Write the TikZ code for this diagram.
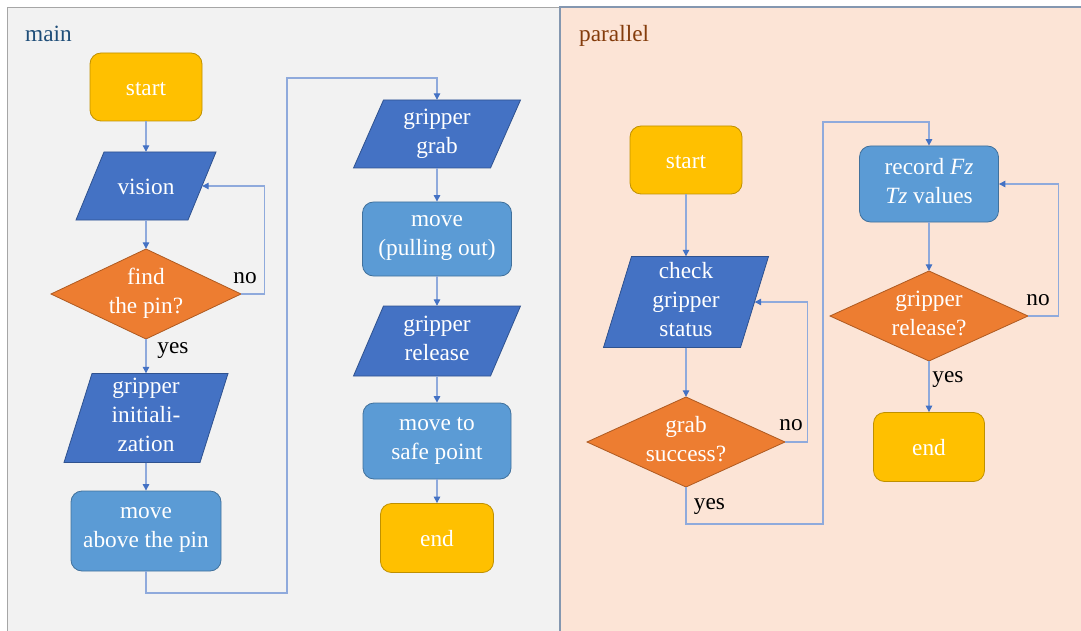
\documentclass[tikz,border=0pt]{standalone}
\usepackage{fontspec}
\setmainfont{Liberation Serif}
\usetikzlibrary{arrows.meta}

\definecolor{termfill}{HTML}{FFC000}
\definecolor{termline}{HTML}{BF9000}
\definecolor{procfill}{HTML}{5B9BD5}
\definecolor{procline}{HTML}{41719C}
\definecolor{iofill}{HTML}{4472C4}
\definecolor{ioline}{HTML}{2F528F}
\definecolor{decfill}{HTML}{ED7D31}
\definecolor{decline}{HTML}{AE5A21}
\definecolor{flowline}{HTML}{8FAADC}
\definecolor{flowtip}{HTML}{4472C4}
\definecolor{mainbg}{HTML}{F2F2F2}
\definecolor{mainframe}{HTML}{A6A6A6}
\definecolor{parbg}{HTML}{FCE4D6}
\definecolor{parframe}{HTML}{8497B0}
\definecolor{maintitle}{HTML}{1F4E79}
\definecolor{partitle}{HTML}{843C0C}

\tikzset{
  txt/.style={font=\fontsize{23.3}{29}\selectfont, text=white, align=center, inner sep=0pt,
    execute at begin node={\rule{0pt}{19.5pt}},
    execute at end node={\rule[-6pt]{0pt}{6pt}}},
  oneline/.style={execute at begin node={\rule{0pt}{23pt}}},
  terminal/.style={txt, oneline, rectangle, rounded corners=11pt, fill=termfill, draw=termline, line width=0.8pt},
  process/.style={txt, rectangle, rounded corners=11pt, fill=procfill, draw=procline, line width=0.8pt},
  iobody/.style={fill=iofill, draw=ioline, line width=0.8pt},
  decbody/.style={fill=decfill, draw=decline, line width=0.8pt},
  flow/.style={draw=flowline, line width=1.1pt, -{Triangle[length=6.5pt,width=6.5pt,color=flowtip]}},
  lbl/.style={font=\fontsize{23.3}{29}\selectfont, text=black, anchor=base, inner sep=0pt},
  paneltitle/.style={font=\fontsize{23.3}{29}\selectfont, anchor=base west, inner sep=0pt},
}

% parallelogram: name, x, y, half width, half height, half slant, text (#8: extra node options)
\newcommand\iobox[8][]{%
  \filldraw[iobody] (#3+#5+#7,#4-#6) -- (#3-#5+#7,#4-#6) -- (#3-#5-#7,#4+#6) -- (#3+#5-#7,#4+#6) -- cycle;
  \node[txt, #1, minimum width=#5*2pt, minimum height=#6*2pt] (#2) at (#3,#4) {#8};}
% decision diamond: name, x, y, half width, half height, text
\newcommand\decbox[6]{%
  \filldraw[decbody] (#2,#3-#5) -- (#2+#4,#3) -- (#2,#3+#5) -- (#2-#4,#3) -- cycle;
  \node[txt, minimum width=#4*2pt, minimum height=#5*2pt] (#1) at (#2,#3) {#6};}

\begin{document}
\begin{tikzpicture}[x=1pt, y=-1pt]
\useasboundingbox (0,0) rectangle (1081,631);
\begin{scope}
\clip (0,0) rectangle (1081,631);
% panels
\filldraw[fill=mainbg, draw=mainframe, line width=1.5pt] (7.5,7.5) rectangle (560,650);
\filldraw[fill=parbg, draw=parframe, line width=2pt] (560,7.5) rectangle (1095,650);
\end{scope}
\node[paneltitle, text=maintitle] (maintitle) at (25,42) {main};
\node[paneltitle, text=partitle] (partitle) at (579,42) {parallel};

% ---- main sequence ----
\node[terminal, minimum width=112pt, minimum height=68pt] (start) at (146,87) {start};
\iobox[oneline]{vision}{146}{186}{56}{34}{14}{vision}
\decbox{find}{146}{294}{95}{45}{find\\the pin?}
\iobox{ginit}{146}{418}{68}{44.5}{14}{gripper\\initiali-\\zation}
\node[process, minimum width=150pt, minimum height=80pt] (above) at (146,531) {move\\above the pin};
\iobox{grab}{437}{134}{68.5}{34}{15}{gripper\\grab}
\node[process, minimum width=149pt, minimum height=74pt] (pull) at (437,239) {move\\(pulling out)};
\iobox{release}{437}{341}{68.5}{35}{15}{gripper\\release}
\node[process, minimum width=148pt, minimum height=76pt] (safe) at (437,441) {move to\\safe point};
\node[terminal, minimum width=113pt, minimum height=69pt] (end) at (437,538) {end};

\coordinate (j1) at (287,593);
\coordinate (j2) at (287,78);

\draw[flow] (start.south) -- (vision.north);
\draw[flow] (vision.south) -- (find.north);
\draw[flow] (find.east) -- ++(23,0) |- (vision.east);
\draw[flow] (find.south) -- (ginit.north);
\draw[flow] (ginit.south) -- (above.north);
\draw[flow] (above.south) |- (j1) -- (j2) -| (grab.north);
\draw[flow] (grab.south) -- (pull.north);
\draw[flow] (pull.south) -- (release.north);
\draw[flow] (release.south) -- (safe.north);
\draw[flow] (safe.south) -- (end.north);

\node[lbl] (findno) at (245,283) {no};
\node[lbl] (findyes) at (173,353) {yes};

% ---- parallel sequence ----
\node[terminal, minimum width=112pt, minimum height=68pt] (pstart) at (686,160) {start};
\iobox{check}{686}{302}{68.5}{45.5}{14}{check\\gripper\\status}
\decbox{grabq}{686}{442}{99}{45}{grab\\success?}
\node[process, minimum width=139pt, minimum height=76pt] (record) at (929,184) {record \textit{Fz}\\\textit{Tz} values};
\decbox{relq}{929}{316}{99}{45}{gripper\\release?}
\node[terminal, minimum width=111pt, minimum height=69pt] (pend) at (929,447) {end};

\coordinate (k1) at (823,524);
\coordinate (k2) at (823,122);

\draw[flow] (pstart.south) -- (check.north);
\draw[flow] (check.south) -- (grabq.north);
\draw[flow] (grabq.east) -- ++(22,0) |- (check.east);
\draw[flow] (grabq.south) |- (k1) -- (k2) -| (record.north);
\draw[flow] (record.south) -- (relq.north);
\draw[flow] (relq.east) -- ++(30,0) |- (record.east);
\draw[flow] (relq.south) -- (pend.north);

\node[lbl] (grabno) at (791,430) {no};
\node[lbl] (grabyes) at (709.5,509) {yes};
\node[lbl] (relno) at (1038,305) {no};
\node[lbl] (relyes) at (948,382) {yes};
\end{tikzpicture}
\end{document}
